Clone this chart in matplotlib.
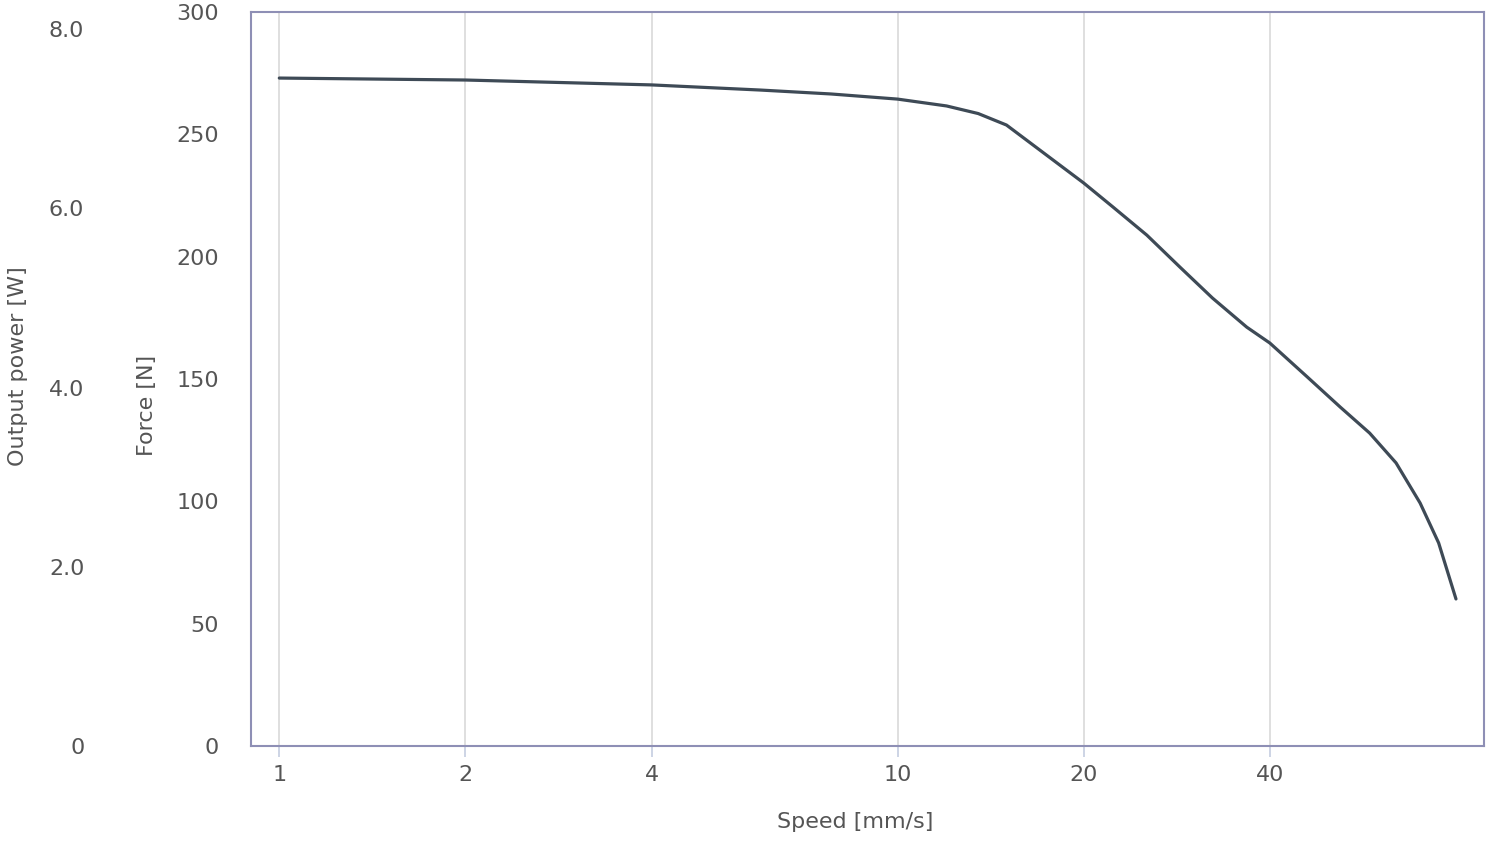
import matplotlib
matplotlib.use("Agg")
import matplotlib.pyplot as plt
from matplotlib.ticker import FixedLocator, NullLocator, FixedFormatter

# data
speed = [1, 2, 4, 6, 7.8, 10, 12, 13.5, 15, 20, 22.3, 25.3, 28.6, 32.3, 36.7, 40,
         46, 52, 58, 64, 70, 75, 80]
force = [273.0, 272.2, 270.2, 268.1, 266.5, 264.4, 261.6, 258.5, 253.8, 230.1, 220.3,
         208.8, 195.8, 183.1, 171.2, 164.7, 150.8, 138.5, 127.9, 115.7, 99.3, 83.0, 60.1]

x_ticks = [1, 2, 4, 10, 20, 40]
x_labels = ["1", "2", "4", "10", "20", "40"]
force_ticks = [0, 50, 100, 150, 200, 250, 300]
force_labels = ["0", "50", "100", "150", "200", "250", "300"]
power_ticks = [0, 2, 4, 6, 8]
power_labels = ["0", "2.0", "4.0", "6.0", "8.0"]

txt = "#555555"
frame = "#8e8fb5"
fs = 16

fig = plt.figure(figsize=(15, 8.49), dpi=100)
ax = fig.add_axes([251/1500, 1-746/849, (1484-251)/1500, (746-12)/849])

ax.plot(speed, force, color="#3e4a56", lw=2.3, solid_capstyle="round",
        solid_joinstyle="round")

ax.set_xscale("log")
ax.set_xlim(0.9, 88.8)
ax.xaxis.set_major_locator(FixedLocator(x_ticks))
ax.xaxis.set_major_formatter(FixedFormatter(x_labels))
ax.xaxis.set_minor_locator(NullLocator())
ax.grid(axis="x", color="#d9d9d9", lw=1.2)
ax.tick_params(axis="x", length=8, width=1.2, color="#c5cde0", labelsize=fs,
               labelcolor=txt, pad=6)

ax.set_ylim(0, 300)
ax.set_yticks(force_ticks)
ax.set_yticklabels(force_labels)
ax.tick_params(axis="y", length=0, labelsize=fs, labelcolor=txt, pad=23)

for s in ax.spines.values():
    s.set_color(frame)
    s.set_linewidth(1.5)

# second (empty) axis for output power
ax2 = ax.twinx()
ax2.set_ylim(0, 8.19)
ax2.set_yticks(power_ticks)
ax2.set_yticklabels(power_labels)
ax2.yaxis.set_ticks_position("left")
ax2.yaxis.set_label_position("left")
ax2.spines["left"].set_position(("outward", 120))
for s in ax2.spines.values():
    s.set_visible(False)
ax2.tick_params(axis="y", length=0, labelsize=fs, labelcolor=txt, pad=0)

fig.text(855/1500, 1-822/849, "Speed [mm/s]", ha="center", va="center",
         fontsize=fs, color=txt)
fig.text(147/1500, 1-405/849, "Force [N]", ha="center", va="center",
         rotation=90, fontsize=fs, color=txt)
fig.text(18/1500, 1-366/849, "Output power [W]", ha="center", va="center",
         rotation=90, fontsize=fs, color=txt)

fig.savefig("out.png", dpi=100, facecolor="white")
